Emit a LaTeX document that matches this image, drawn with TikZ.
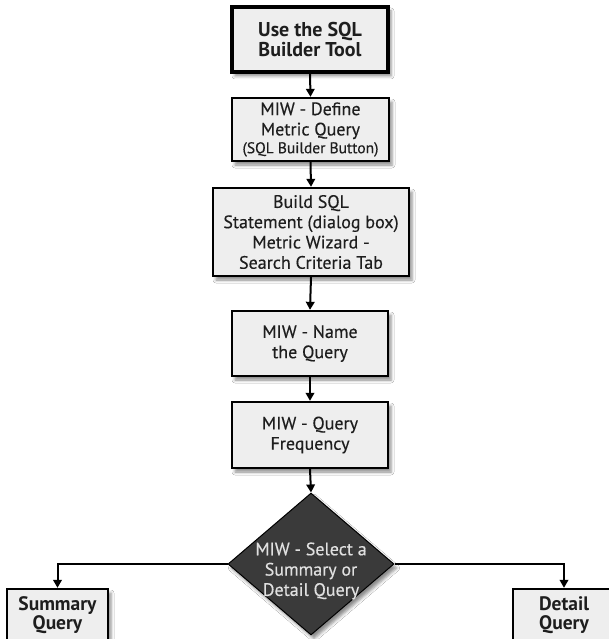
\documentclass[tikz,border=0pt]{standalone}
\usepackage{fontspec}
\setmainfont{PT Sans}[UprightFeatures={FakeBold=0.35}]
\usetikzlibrary{shapes.geometric,shadows.blur,arrows.meta}

\definecolor{boxfill}{HTML}{EEEEEE}
\definecolor{decisionfill}{HTML}{3A3A3A}
\definecolor{inktext}{HTML}{1E1E1E}

\tikzset{
  softshadow/.style={blur shadow={shadow xshift=3pt, shadow yshift=-4pt,
      shadow blur radius=3pt, shadow opacity=45}},
  stepbox/.style={draw=black, line width=2.3pt, fill=boxfill, softshadow,
      align=center, inner sep=0pt, text=inktext,
      font=\fontsize{18}{20.3}\selectfont},
  startbox/.style={stepbox, line width=3.8pt,
      font=\bfseries\fontsize{20}{20.5}\selectfont},
  endbox/.style={stepbox, font=\bfseries\fontsize{19.5}{19.5}\selectfont},
  decision/.style={shape=diamond, draw=black, line width=1pt,
      fill=decisionfill, softshadow, inner sep=0pt, aspect=1},
  flow/.style={line width=2pt, draw=black,
      -{Triangle[width=8.5pt,length=8pt]}}
}

\begin{document}
\begin{tikzpicture}[x=1pt, y=-1pt]
  \useasboundingbox (0,0) rectangle (609,639);
  \fill[white] (0,0) rectangle (609,639);

  % main column of steps
  \node[startbox, minimum width=156pt, minimum height=65pt] (start) at (310,39.5)
    {Use the SQL\\Builder Tool};
  \node[stepbox, minimum width=157pt, minimum height=63pt] (define) at (310.5,129.5)
    {MIW - Define\\Metric Query\\[-2.5pt]{\fontsize{15.5}{17}\selectfont (SQL Builder Button)}};
  \node[stepbox, minimum width=196pt, minimum height=88pt] (build) at (311,232)
    {Build SQL\\Statement (dialog box)\\Metric Wizard -\\Search Criteria Tab};
  \node[stepbox, minimum width=156pt, minimum height=65pt] (name) at (310,343.5)
    {MIW - Name\\the Query};
  \node[stepbox, minimum width=156pt, minimum height=66pt] (freq) at (310,435)
    {MIW - Query\\Frequency};

  % decision and its two outcomes
  \node[decision, minimum width=166pt, minimum height=142pt] (choice) at (311,564) {};
  \node[text=white!88!black, align=center, inner sep=0pt,
        font=\fontsize{18}{20.3}\selectfont] (choicetext) at (311,571)
    {MIW - Select a\\Summary or\\Detail Query};
  \node[endbox, minimum width=101pt, minimum height=52pt] (summary) at (57.5,615)
    {Summary\\Query};
  \node[endbox, minimum width=102pt, minimum height=52pt] (detail) at (564,615)
    {Detail\\Query};

  % connectors
  \draw[flow] (start.south) -- (define.north);
  \draw[flow] (define.south) -- (build.north);
  \draw[flow] (build.south) -- (name.north);
  \draw[flow] (name.south) -- (freq.north);
  \draw[flow] (freq.south) -- (choice.north);
  \draw[flow] (choice.west) -| (summary.north);
  \draw[flow] (choice.east) -| (detail.north);
\end{tikzpicture}
\end{document}
